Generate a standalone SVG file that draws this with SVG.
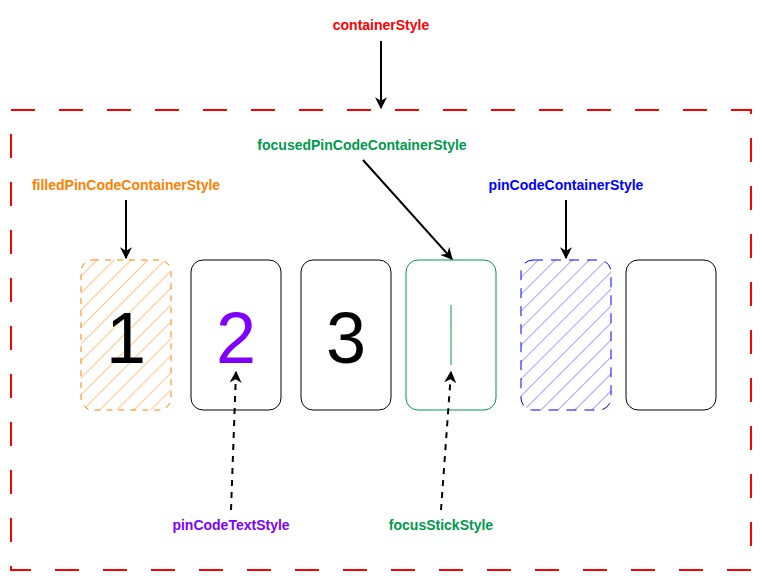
<svg xmlns="http://www.w3.org/2000/svg" width="762" height="581" viewBox="0 0 762 581">
<style>
.lbl{font-family:"Liberation Sans",Arial,sans-serif;font-weight:bold;font-size:14px;text-anchor:middle}
.dig{font-family:"Liberation Sans",Arial,sans-serif;font-size:72px;text-anchor:middle}
.box{fill:none;stroke:#000;stroke-width:1}
.arr{stroke:#000;stroke-width:2;fill:none}
</style>
<defs>
<pattern id="hO" width="12" height="12" patternUnits="userSpaceOnUse" patternTransform="rotate(45)">
<line x1="0" y1="0" x2="0" y2="12" stroke="#FF8000" stroke-width="1" stroke-opacity="0.85"/>
</pattern>
<pattern id="hB" width="12" height="12" patternUnits="userSpaceOnUse" patternTransform="rotate(45)">
<line x1="0" y1="0" x2="0" y2="12" stroke="#3333FF" stroke-width="1" stroke-opacity="0.85"/>
</pattern>
<marker id="ah" viewBox="0 0 10 10" refX="9" refY="5" markerWidth="6" markerHeight="6" orient="auto" markerUnits="strokeWidth">
<path d="M0,0 L10,5 L0,10 L3,5 z" fill="#000"/>
</marker>
</defs>
<g id="container">
<rect x="11" y="110" width="740" height="460" fill="none" stroke="#FF0000" stroke-width="2" stroke-dasharray="24 24"/>
</g>
<g id="box1">
<rect x="81" y="260" width="90" height="150" rx="12" fill="url(#hO)" stroke="#FF8000" stroke-width="1" stroke-dasharray="6 6"/>
<text class="dig" x="126" y="363" fill="#000">1</text>
</g>
<g id="box2">
<rect class="box" x="191" y="260" width="90" height="150" rx="12"/>
<text class="dig" x="236" y="363" fill="#7F00FF">2</text>
</g>
<g id="box3">
<rect class="box" x="301" y="260" width="90" height="150" rx="12"/>
<text class="dig" x="346" y="363" fill="#000">3</text>
</g>
<g id="box4">
<rect x="406" y="260" width="90" height="150" rx="12" fill="none" stroke="#00994D" stroke-width="1"/>
<line x1="451" y1="305" x2="451" y2="365" stroke="#00994D" stroke-width="1"/>
</g>
<g id="box5">
<rect x="521" y="260" width="90" height="150" rx="12" fill="url(#hB)" stroke="#0000FF" stroke-width="1" stroke-dasharray="10 8"/>
</g>
<g id="box6">
<rect class="box" x="626" y="260" width="90" height="150" rx="12"/>
</g>
<g id="labels">
<text class="lbl" x="381" y="30" fill="#FF0000">containerStyle</text>
<text class="lbl" x="362" y="150" fill="#00994D">focusedPinCodeContainerStyle</text>
<text class="lbl" x="126" y="190" fill="#FF8000">filledPinCodeContainerStyle</text>
<text class="lbl" x="566" y="190" fill="#0000FF">pinCodeContainerStyle</text>
<text class="lbl" x="231" y="530" fill="#7F00FF">pinCodeTextStyle</text>
<text class="lbl" x="441" y="530" fill="#00994D">focusStickStyle</text>
</g>
<g id="connectors">
<line class="arr" x1="381" y1="41" x2="381" y2="108" marker-end="url(#ah)"/>
<line class="arr" x1="363" y1="160" x2="452" y2="259" marker-end="url(#ah)"/>
<line class="arr" x1="126" y1="200" x2="126" y2="258" marker-end="url(#ah)"/>
<line class="arr" x1="566" y1="200" x2="566" y2="258" marker-end="url(#ah)"/>
<line class="arr" x1="231" y1="510" x2="236" y2="372" stroke-dasharray="6 6" marker-end="url(#ah)"/>
<line class="arr" x1="441" y1="510" x2="451" y2="372" stroke-dasharray="6 6" marker-end="url(#ah)"/>
</g>
</svg>
